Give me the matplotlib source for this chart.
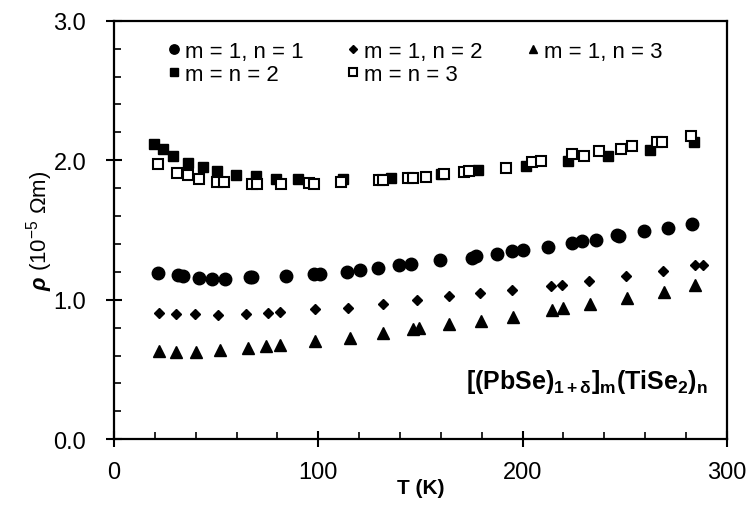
import matplotlib
matplotlib.use("Agg")
import matplotlib.pyplot as plt
from matplotlib.ticker import MultipleLocator

plt.rcParams["font.family"] = ["Liberation Sans", "DejaVu Sans"]
plt.rcParams["mathtext.fontset"] = "custom"
plt.rcParams["mathtext.rm"] = "Liberation Sans"
plt.rcParams["mathtext.it"] = "Liberation Sans:italic:bold"
plt.rcParams["mathtext.bf"] = "Liberation Sans:bold"

# -------------------- Datos --------------------
T_11 = [21.6, 31.4, 33.9, 41.7, 48.2, 54.2, 66.4, 67.8, 84.4, 97.7, 101.0, 114.2,
        120.2, 129.1, 139.7, 145.4, 159.6, 175.5, 177.2, 187.7, 195.1, 200.0, 212.7,
        224.1, 229.3, 235.8, 246.4, 247.2, 259.7, 271.1, 283.0]
rho_11 = [1.195, 1.178, 1.168, 1.159, 1.152, 1.152, 1.164, 1.164, 1.171, 1.188, 1.188,
          1.202, 1.211, 1.231, 1.247, 1.254, 1.283, 1.302, 1.314, 1.331, 1.350, 1.357,
          1.381, 1.410, 1.422, 1.429, 1.462, 1.457, 1.491, 1.513, 1.541]

T_12 = [22.1, 30.3, 39.6, 51.0, 64.8, 75.4, 81.1, 98.5, 114.5, 131.6, 148.3, 164.1,
        179.3, 194.8, 213.8, 219.2, 232.5, 250.8, 268.7, 284.7, 288.2]
rho_12 = [0.908, 0.898, 0.898, 0.889, 0.898, 0.908, 0.913, 0.932, 0.944, 0.970, 0.998,
          1.027, 1.047, 1.070, 1.099, 1.104, 1.137, 1.171, 1.204, 1.247, 1.247]

T_13 = [22.1, 30.3, 40.1, 51.8, 65.6, 74.6, 81.1, 98.5, 115.3, 131.6, 146.5, 149.5,
        164.1, 179.6, 195.4, 214.6, 219.8, 232.9, 251.2, 269.2, 284.7]
rho_13 = [0.633, 0.628, 0.628, 0.638, 0.652, 0.669, 0.676, 0.705, 0.729, 0.758, 0.789,
          0.800, 0.824, 0.848, 0.879, 0.927, 0.939, 0.968, 1.011, 1.056, 1.104]

T_22 = [19.7, 24.1, 29.0, 36.3, 43.6, 50.5, 59.9, 69.7, 79.1, 90.0, 112.0, 135.7,
        160.1, 178.0, 201.6, 222.4, 242.0, 262.2, 283.8]
rho_22 = [2.115, 2.079, 2.031, 1.983, 1.948, 1.924, 1.895, 1.888, 1.869, 1.869, 1.864,
          1.876, 1.900, 1.928, 1.959, 1.995, 2.031, 2.074, 2.131]

T_33 = [21.6, 30.6, 36.3, 41.7, 50.5, 53.7, 67.8, 70.0, 81.9, 95.7, 97.7, 111.2,
        129.9, 131.6, 143.8, 146.2, 152.8, 161.7, 171.5, 173.9, 191.8, 204.8, 208.9,
        224.4, 230.1, 237.4, 248.0, 253.7, 265.9, 268.3, 282.7]
rho_33 = [1.971, 1.912, 1.892, 1.869, 1.845, 1.845, 1.828, 1.828, 1.828, 1.835, 1.828,
          1.845, 1.859, 1.859, 1.876, 1.876, 1.883, 1.900, 1.916, 1.923, 1.947, 1.990,
          1.995, 2.043, 2.031, 2.067, 2.084, 2.103, 2.131, 2.131, 2.174]

# -------------------- Gráfica --------------------
fig = plt.figure(figsize=(7.5, 5.06), dpi=100)
ax = fig.add_axes([0.152, 0.130, 0.817, 0.827])

h11, = ax.plot(T_11, rho_11, "o", color="black", markersize=9, label="m = 1, n = 1")
h12, = ax.plot(T_12, rho_12, "D", color="black", markersize=5.5, label="m = 1, n = 2")
h13, = ax.plot(T_13, rho_13, "^", color="black", markersize=8.5, label="m = 1, n = 3")
h22, = ax.plot(T_22, rho_22, "s", color="black", markersize=7.5, label="m = n = 2")
h33, = ax.plot(T_33, rho_33, "s", color="black", markerfacecolor="white",
               markeredgewidth=1.5, markersize=7.5, label="m = n = 3")

ax.set_xlim(0, 300)
ax.set_ylim(0, 3)
ax.xaxis.set_major_locator(MultipleLocator(100))
ax.xaxis.set_minor_locator(MultipleLocator(20))
ax.yaxis.set_major_locator(MultipleLocator(1))
ax.yaxis.set_minor_locator(MultipleLocator(0.2))
ax.yaxis.set_major_formatter(plt.FormatStrFormatter("%.1f"))

ax.tick_params(which="major", direction="inout", length=12, width=1.5,
               labelsize=17, colors="black")
ax.tick_params(axis="y", which="major", pad=14)
ax.tick_params(axis="x", which="major", pad=10)
ax.tick_params(which="minor", direction="in", length=5, width=1.2)
for s in ax.spines.values():
    s.set_linewidth(1.6)

ax.set_xlabel("T (K)", fontsize=15, fontweight="bold", labelpad=-4)
ax.set_ylabel(r"$\rho$ (10$^{\mathregular{-5}}$ Ωm)", fontsize=16, labelpad=-1)

# orden por filas: (11, 12, 13) arriba, (22, 33) abajo
ax.legend([h11, h22, h12, h33, h13],
          ["m = 1, n = 1", "m = n = 2", "m = 1, n = 2", "m = n = 3", "m = 1, n = 3"],
          loc="upper left", bbox_to_anchor=(0.05, 1.0), ncol=3, frameon=False,
          fontsize=16, handletextpad=0.1, columnspacing=1.85, markerscale=0.75,
          handlelength=0.8, labelspacing=0.1)

ax.text(0.97, 0.14, r"$\mathbf{[(PbSe)_{1+\delta}]_m(TiSe_2)_n}$", transform=ax.transAxes,
        ha="right", va="center", fontsize=18)

fig.savefig("out.png", dpi=100)
plt.close(fig)
